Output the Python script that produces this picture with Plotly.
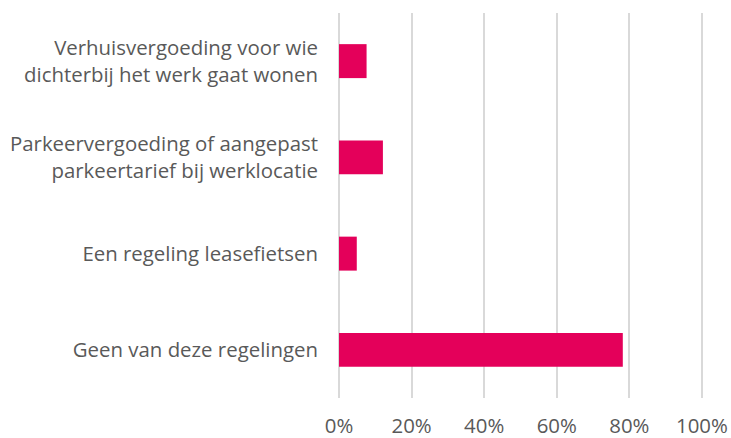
import plotly.graph_objects as go

# Regelingen (van boven naar beneden) en aandeel respondenten in procenten
categories = [
    "Verhuisvergoeding voor wie<br>dichterbij het werk gaat wonen",
    "Parkeervergoeding of aangepast<br>parkeertarief bij werklocatie",
    "Een regeling leasefietsen",
    "Geen van deze regelingen",
]
values = [7.6, 12.1, 4.9, 78.2]
tick_values = [0, 20, 40, 60, 80, 100]
tick_labels = ["0%", "20%", "40%", "60%", "80%", "100%"]

BAR_COLOR = "#E4005A"
TEXT_COLOR = "#595959"
GRID_COLOR = "#D9D9D9"
FONT = "Open Sans, Segoe UI, sans-serif"
FONT_SIZE = 20.4

fig = go.Figure(
    go.Bar(
        x=values,
        y=categories,
        orientation="h",
        marker=dict(color=BAR_COLOR, line=dict(width=0)),
        hoverinfo="skip",
    )
)

fig.update_layout(
    width=731,
    height=438,
    margin=dict(l=339, r=28, t=13, b=40),
    paper_bgcolor="white",
    plot_bgcolor="white",
    bargap=0.647,
    showlegend=False,
    font=dict(family=FONT, size=FONT_SIZE, color=TEXT_COLOR),
)

# range slightly past 100 so the 100% gridline stays inside the plot area
fig.update_xaxes(
    range=[0, 100.3],
    tickvals=tick_values,
    ticktext=tick_labels,
    showgrid=True,
    gridcolor=GRID_COLOR,
    gridwidth=2,
    zeroline=True,
    zerolinecolor=GRID_COLOR,
    zerolinewidth=2,
    showline=False,
    ticks="",
    ticklabelstandoff=14,
    automargin=False,
    tickfont=dict(family=FONT, size=FONT_SIZE, color=TEXT_COLOR),
    fixedrange=True,
)

fig.update_yaxes(
    autorange="reversed",
    showgrid=False,
    zeroline=False,
    showline=False,
    ticks="",
    ticklabelstandoff=20,
    automargin=False,
    tickfont=dict(family=FONT, size=FONT_SIZE, color=TEXT_COLOR),
    fixedrange=True,
)

fig.write_html("out.html")
